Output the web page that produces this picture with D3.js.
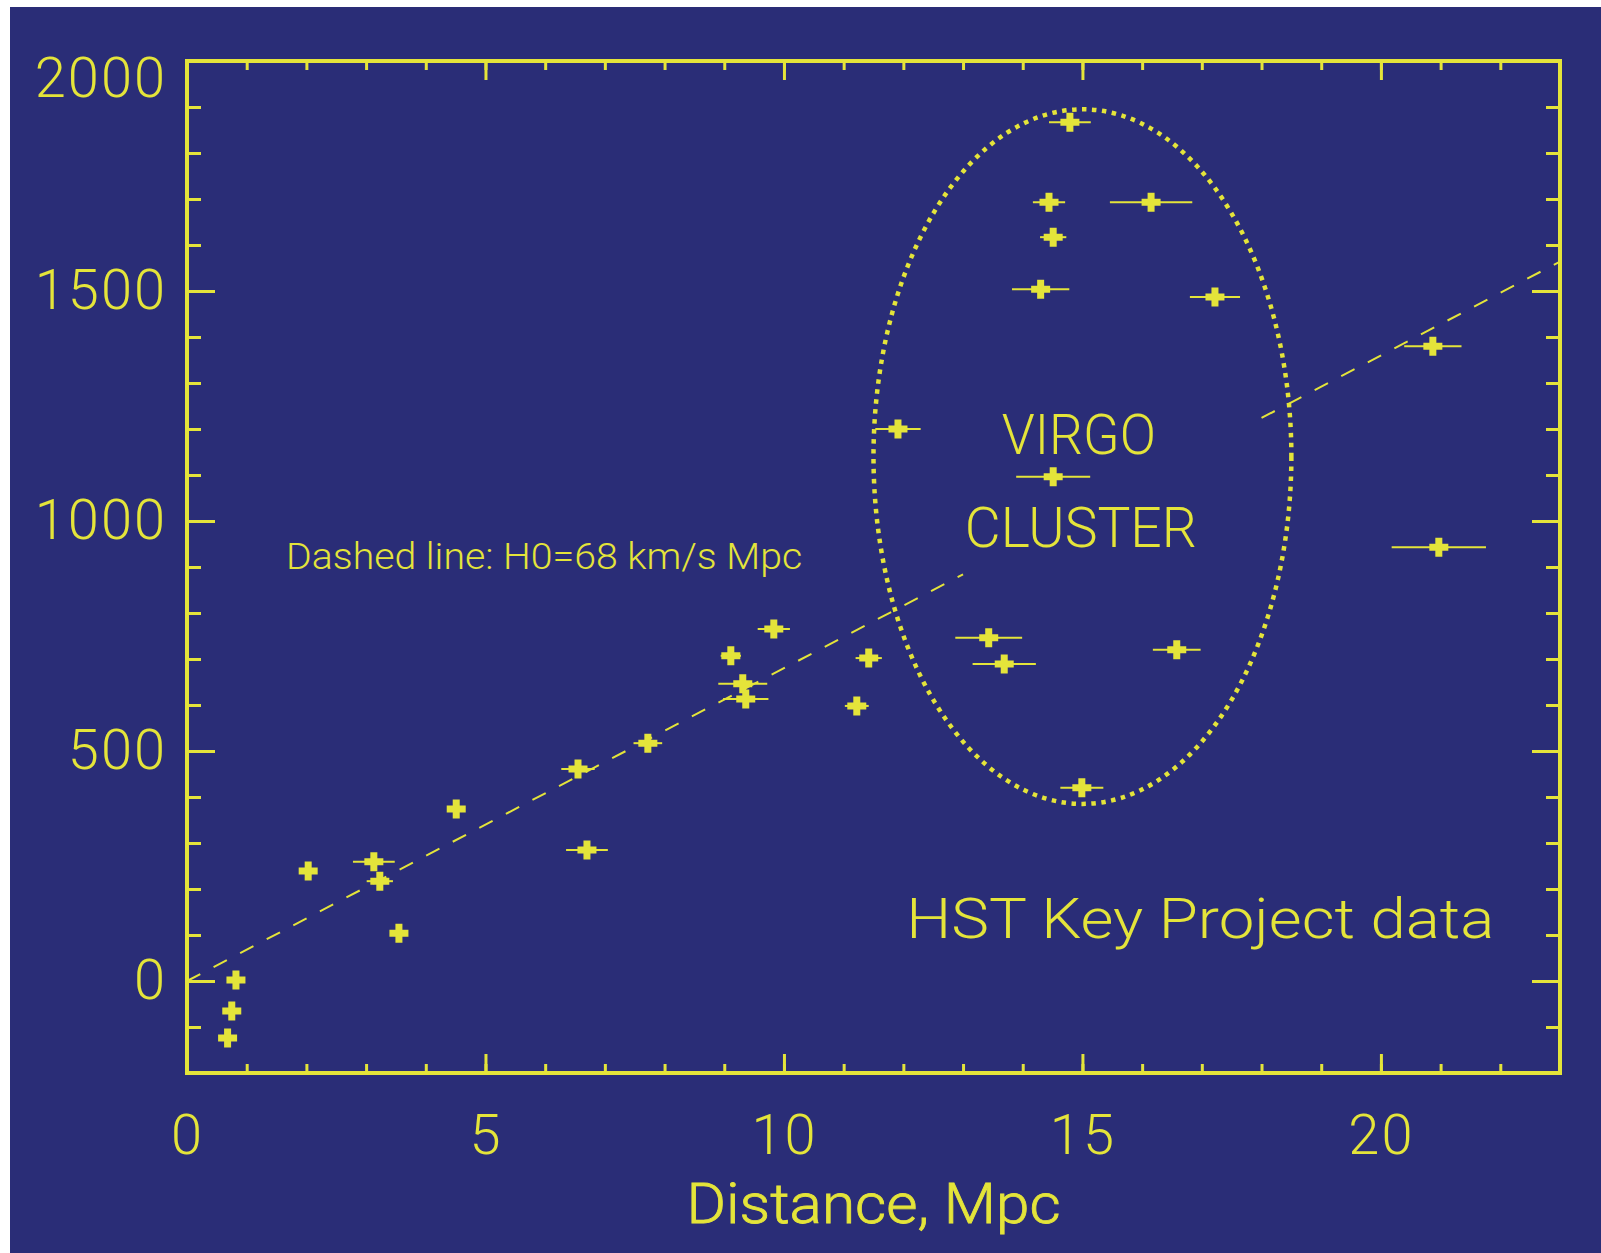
<!DOCTYPE html>
<html>
<head>
<meta charset="utf-8">
<script src="https://cdn.jsdelivr.net/npm/d3@7/dist/d3.min.js"></script>
<style>
	html, body {margin: 0; padding: 0; background: #fff;}
	svg {display: block;}
	text {font-family: Roboto, "DejaVu Sans", sans-serif; font-weight: 300; fill: #e4e43a;}
</style>
</head>
<body>
<svg id="chart" width="1601" height="1253"></svg>
<script>
// HST Key Project galaxies: distance (Mpc), recession velocity (km/s), distance error (Mpc)
const dist = [0.82, 0.75, 0.68, 2.03, 3.13, 3.23, 3.55, 4.51, 6.55, 6.70, 7.72, 9.11, 9.31, 9.36, 9.83,
	11.22, 11.42, 11.91, 13.43, 13.69, 14.30, 14.44, 14.51, 14.51, 14.79, 14.99, 16.15, 16.58, 17.22, 20.87, 20.97]
const vel = [2, -65, -124, 239, 259, 217, 104, 374, 461, 285, 517, 707, 646, 613, 765,
	598, 702, 1200, 746, 689, 1504, 1693, 1617, 1096, 1867, 420, 1693, 720, 1487, 1380, 943]
const distErr = [0.05, 0.05, 0.05, 0.1, 0.35, 0.22, 0.1, 0.1, 0.28, 0.35, 0.24, 0.17, 0.41, 0.38, 0.27,
	0.2, 0.22, 0.38, 0.56, 0.53, 0.48, 0.27, 0.22, 0.62, 0.35, 0.36, 0.69, 0.40, 0.42, 0.48, 0.79]

const xDomain = [0, 23]
const yDomain = [-200, 2000]
const xMajor = [0, 5, 10, 15, 20]
const xMinor = d3.range(0, 24, 1)
const yMajor = [0, 500, 1000, 1500, 2000]
const yMinor = d3.range(-200, 2001, 100)

const H0 = 68
const fitSegments = [[0, 13], [18, 23]]     // the dashed line skips the cluster
const virgoCenter = [15, 1140]
const virgoRadii = [3.5, 755]

const BLUE = "#2a2d77", YELLOW = "#e4e43a"
const svg = d3.select("#chart")
const L = 187, R = 1560, T = 61, B = 1073

const x = d3.scaleLinear().domain(xDomain).range([L, R])
const y = d3.scaleLinear().domain(yDomain).range([B, T])

// background (white strip at top/left like the original screenshot)
svg.append("rect").attr("width", 1601).attr("height", 1253).attr("fill", "#fff")
svg.append("rect").attr("x", 10).attr("y", 7).attr("width", 1591).attr("height", 1246).attr("fill", BLUE)

function styleAxis(g) {
	g.select(".domain").remove()
	g.selectAll("line").attr("stroke", YELLOW).attr("stroke-width", 3)
	g.selectAll("text").attr("fill", YELLOW).style("font-size", "56px").style("letter-spacing", "2px")
		.attr("font-family", null)
}

// minor + major ticks, all pointing inward
svg.append("g").attr("transform", `translate(0,${B})`)
	.call(d3.axisBottom(x).tickValues(xMinor).tickSize(-9).tickFormat("")).call(styleAxis)
svg.append("g").attr("transform", `translate(0,${B})`)
	.call(d3.axisBottom(x).tickValues(xMajor).tickSize(-19).tickPadding(41).tickFormat(d3.format("d"))).call(styleAxis)
svg.append("g").attr("transform", `translate(0,${T})`)
	.call(d3.axisTop(x).tickValues(xMinor).tickSize(-9).tickFormat("")).call(styleAxis)
svg.append("g").attr("transform", `translate(0,${T})`)
	.call(d3.axisTop(x).tickValues(xMajor).tickSize(-19).tickFormat("")).call(styleAxis)

svg.append("g").attr("transform", `translate(${L},0)`)
	.call(d3.axisLeft(y).tickValues(yMinor).tickSize(-14).tickFormat("")).call(styleAxis)
const yl = svg.append("g").attr("transform", `translate(${L},0)`)
	.call(d3.axisLeft(y).tickValues(yMajor).tickSize(-28).tickPadding(20).tickFormat(d3.format("d"))).call(styleAxis)
yl.selectAll(".tick").filter(d => d === 2000).select("text").attr("dy", "0.64em")
svg.append("g").attr("transform", `translate(${R},0)`)
	.call(d3.axisRight(y).tickValues(yMinor).tickSize(-14).tickFormat("")).call(styleAxis)
svg.append("g").attr("transform", `translate(${R},0)`)
	.call(d3.axisRight(y).tickValues(yMajor).tickSize(-28).tickFormat("")).call(styleAxis)

// frame
svg.append("rect").attr("x", L).attr("y", T).attr("width", R - L).attr("height", B - T)
	.attr("fill", "none").attr("stroke", YELLOW).attr("stroke-width", 4)

// Hubble law dashed line
const fit = d3.line().x(d => x(d)).y(d => y(H0 * d))
svg.append("g").selectAll("path").data(fitSegments).join("path")
	.attr("d", fit).attr("fill", "none").attr("stroke", YELLOW)
	.attr("stroke-width", 2).attr("stroke-dasharray", "15,15")

// Virgo cluster ellipse (dotted)
svg.append("ellipse")
	.attr("cx", x(virgoCenter[0])).attr("cy", y(virgoCenter[1]))
	.attr("rx", x(virgoCenter[0] + virgoRadii[0]) - x(virgoCenter[0]))
	.attr("ry", y(virgoCenter[1] - virgoRadii[1]) - y(virgoCenter[1]))
	.attr("fill", "none").attr("stroke", YELLOW).attr("stroke-width", 4.5).attr("stroke-dasharray", "4.5,5.5")

// data: error bars + plus symbols
const pts = d3.range(dist.length)
svg.append("g").selectAll("line").data(pts).join("line")
	.attr("x1", i => x(dist[i] - distErr[i])).attr("x2", i => x(dist[i] + distErr[i]))
	.attr("y1", i => y(vel[i])).attr("y2", i => y(vel[i]))
	.attr("stroke", YELLOW).attr("stroke-width", 2)
svg.append("g").selectAll("path").data(pts).join("path")
	.attr("transform", i => `translate(${x(dist[i])},${y(vel[i])})`)
	.attr("d", "M-9.5,0H9.5M0,-9.5V9.5").attr("stroke", YELLOW).attr("stroke-width", 7).attr("fill", "none")

// labels
function label(txt, xv, yv, size, len, anchor) {
	svg.append("text").attr("x", x(xv)).attr("y", y(yv)).attr("text-anchor", anchor || "start")
		.style("font-size", size + "px").attr("textLength", len).attr("lengthAdjust", "spacingAndGlyphs")
		.text(txt)
}
label("Dashed line: H0=68 km/s Mpc", 1.66, 896, 36, 516)
label("VIRGO", 13.65, 1146, 56, 154)
label("CLUSTER", 13.03, 944, 56, 232)
label("HST Key Project data", 12.05, 94, 56, 588)

svg.append("text").attr("x", (L + R) / 2).attr("y", 1223).attr("text-anchor", "middle")
	.style("font-size", "56px").attr("stroke", YELLOW).attr("stroke-width", 0.8)
	.attr("textLength", 374).attr("lengthAdjust", "spacingAndGlyphs")
	.text("Distance, Mpc")
</script>
</body>
</html>
